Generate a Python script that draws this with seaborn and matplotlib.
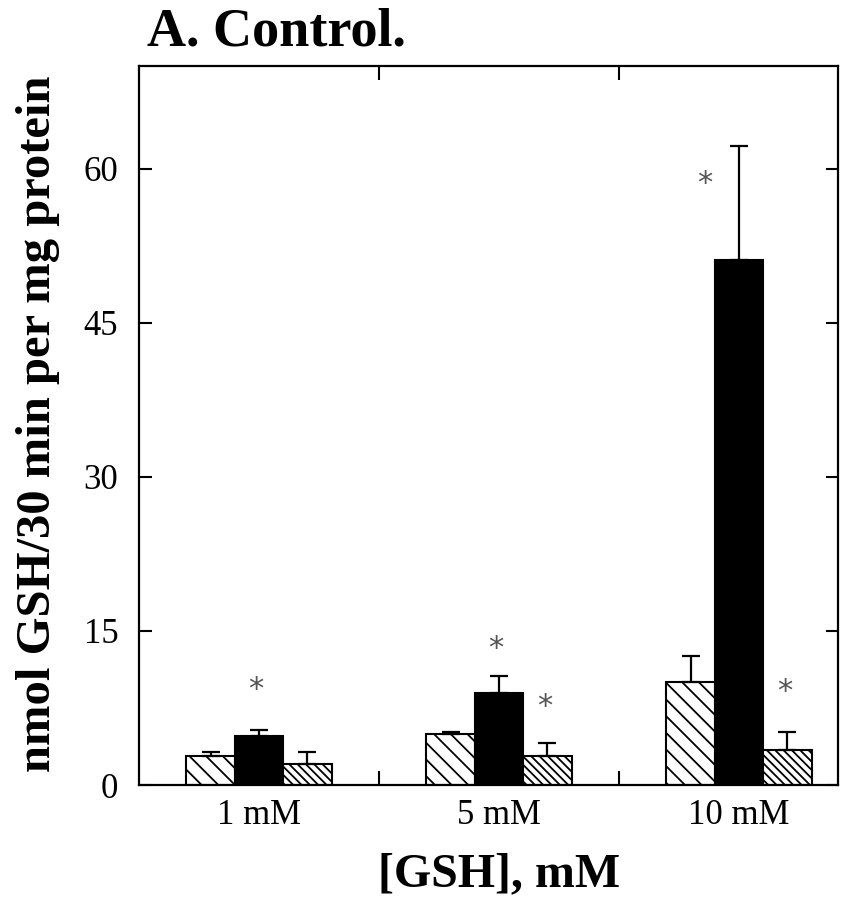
import numpy as np
import pandas as pd
import matplotlib
matplotlib.use("Agg")
import matplotlib.pyplot as plt
import seaborn as sns

# ---- data ----
concentrations = ["1 mM", "5 mM", "10 mM"]
series = ["A", "B", "C"]
values_A = [2.85, 4.96, 10.05]
values_B = [4.80, 8.92, 51.14]
values_C = [2.04, 2.85, 3.40]
err_A = [0.33, 0.16, 2.50]
err_B = [0.55, 1.68, 11.10]
err_C = [1.14, 1.27, 1.72]
# significance stars: (concentration index, series index, y value)
star_group = [0, 1, 1, 2, 2]
star_series = [1, 1, 2, 1, 2]
star_y = [9.3, 13.3, 7.6, 58.6, 9.1]
yticks = [0, 15, 30, 45, 60]

sns.set_style("ticks")
plt.rcParams["font.family"] = ["Liberation Serif", "DejaVu Serif"]
plt.rcParams["hatch.linewidth"] = 1.3
for k in ["text.color", "axes.labelcolor", "xtick.color", "ytick.color",
          "xtick.labelcolor", "ytick.labelcolor"]:
    plt.rcParams[k] = "black"

df = pd.DataFrame({
    "conc": concentrations * 3,
    "series": [s for s in series for _ in concentrations],
    "value": values_A + values_B + values_C,
})
errs = [err_A, err_B, err_C]

W, H = 859, 901
fig = plt.figure(figsize=(W / 100, H / 100), dpi=100)
ax = fig.add_axes([139 / W, 1 - 785 / H, 699 / W, 719 / H])

sns.barplot(data=df, x="conc", y="value", hue="series", order=concentrations,
            hue_order=series, errorbar=None, width=0.606, gap=0,
            palette=["white", "black", "white"], edgecolor="black",
            linewidth=1.5, legend=False, ax=ax, zorder=2)

hatches = ["\\\\", "", "\\\\\\\\"]
for cont, h, e in zip(ax.containers, hatches, errs):
    xs, ys = [], []
    for bar in cont:
        bar.set_hatch(h)
        bar.set_edgecolor("black")
        xs.append(bar.get_x() + bar.get_width() / 2)
        ys.append(bar.get_height())
    ax.errorbar(xs, ys, yerr=[np.zeros(len(e)), e], fmt="none", ecolor="black",
                elinewidth=1.6, capsize=6.5, capthick=1.6, zorder=3)

for g, s, y in zip(star_group, star_series, star_y):
    bar = list(ax.containers[s])[g]
    x = bar.get_x() + bar.get_width() / 2 - 0.012
    if g == 2 and s == 1:
        x -= 0.13
    ax.text(x, y, "*", color="#555555", fontsize=22, ha="center", va="center",
            family="DejaVu Sans", zorder=4)

ax.set_xlim(-0.5, 2.4125)
ax.set_ylim(0, 70)
ax.set_yticks(yticks)
ax.set_yticklabels([str(t) for t in yticks])
ax.set_xticks(range(len(concentrations)))
ax.set_xticklabels(concentrations)
ax.set_xticks([0.5, 1.5], minor=True)

ax.tick_params(axis="y", which="major", direction="in", length=9, width=1.5,
               left=True, right=True, labelsize=25, pad=15, colors="black")
ax.tick_params(axis="x", which="major", length=0, labelsize=25, pad=10,
               colors="black")
ax.tick_params(axis="x", which="minor", direction="in", length=10, width=1.5,
               bottom=True, top=True, colors="black")
for sp in ax.spines.values():
    sp.set_visible(True)
    sp.set_linewidth(1.6)
    sp.set_color("black")

ax.set_xlabel("[GSH], mM", fontsize=34.5, fontweight="bold", color="black")
ax.xaxis.set_label_coords(0.515, -0.094)
ax.set_ylabel("nmol GSH/30 min per mg protein", fontsize=35, fontweight="bold",
              color="black")
ax.yaxis.set_label_coords(-0.113, 0.502)

fig.text(147 / W, 1 - 46 / H, "A. Control.", fontsize=39, fontweight="bold",
         ha="left", va="baseline", color="black")

fig.savefig("out.png", dpi=100)
